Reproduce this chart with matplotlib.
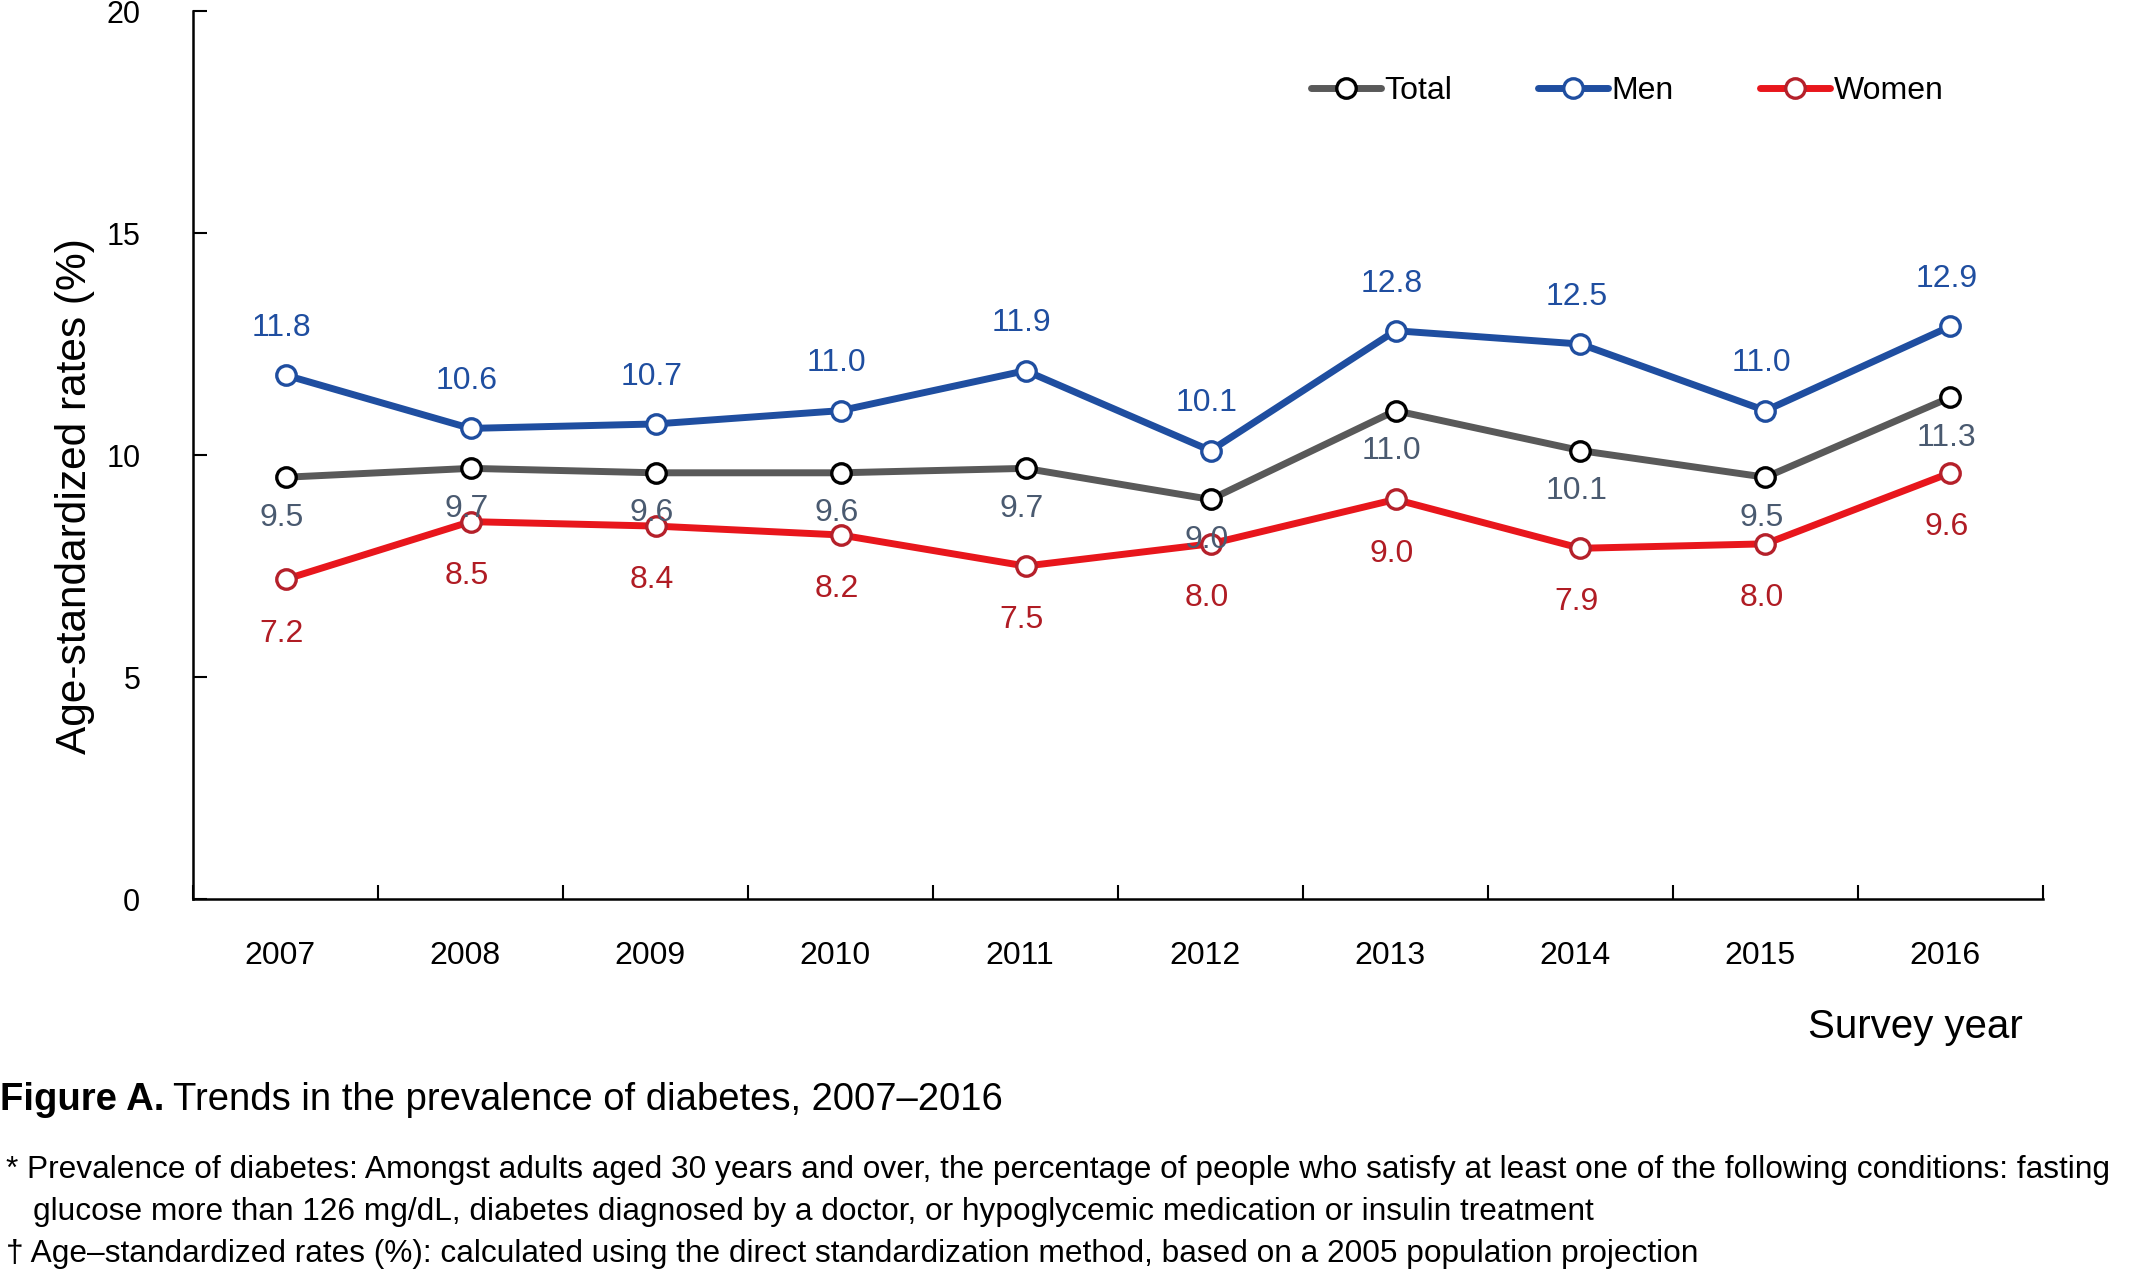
import matplotlib
matplotlib.use("Agg")
import matplotlib.pyplot as plt
from matplotlib.ticker import FixedLocator, NullFormatter
from matplotlib.transforms import ScaledTranslation
import numpy as np

years = ["2007", "2008", "2009", "2010", "2011", "2012", "2013", "2014", "2015", "2016"]
total = [9.5, 9.7, 9.6, 9.6, 9.7, 9.0, 11.0, 10.1, 9.5, 11.3]
men = [11.8, 10.6, 10.7, 11.0, 11.9, 10.1, 12.8, 12.5, 11.0, 12.9]
women = [7.2, 8.5, 8.4, 8.2, 7.5, 8.0, 9.0, 7.9, 8.0, 9.6]
y_ticks = [0, 5, 10, 15, 20]

plt.rcParams["font.family"] = ["Liberation Sans", "DejaVu Sans"]

fig = plt.figure(figsize=(21.33, 12.7), dpi=100)
ax = fig.add_axes([0.0905, 0.2921, 0.8673, 0.6992])

x = np.arange(len(years))

series = [
    ("Total", total, "#595959", "black", "#4a5a70", -29),
    ("Men", men, "#1f4ea0", "#1f4ea0", "#1f4ea0", 34),
    ("Women", women, "#e8161c", "#b5202a", "#b01c24", -39),
]

for name, vals, lc, ec, tc, off in series:
    ax.plot(x, vals, color=lc, lw=5, marker="o", ms=14, mfc="white",
            mec=ec, mew=2.4, label=name, solid_capstyle="round", zorder=3)
    for xi, v in zip(x, vals):
        ax.annotate(f"{v:.1f}", (xi, v), xytext=(-3, off), textcoords="offset points",
                    ha="center", va="center", fontsize=23, color=tc, zorder=4)

ax.set_xlim(-0.5, len(years) - 0.5)
ax.set_ylim(0, 20)
ax.set_yticks(y_ticks)
ax.tick_params(axis="y", direction="in", length=10, width=1.5, pad=38, labelsize=22)

# tick marks between categories, labels at the centres
ax.xaxis.set_major_locator(FixedLocator(np.arange(-0.5, len(years), 1.0)))
ax.xaxis.set_major_formatter(NullFormatter())
ax.xaxis.set_minor_locator(FixedLocator(x))
ax.set_xticklabels(years, minor=True)
ax.tick_params(axis="x", which="major", direction="in", length=10, width=1.5)
ax.tick_params(axis="x", which="minor", length=0, pad=30, labelsize=23)
shift = ScaledTranslation(-4 / 72, 0, fig.dpi_scale_trans)
for lab in ax.get_xticklabels(minor=True):
    lab.set_transform(lab.get_transform() + shift)

for s in ["top", "right"]:
    ax.spines[s].set_visible(False)
for s in ["left", "bottom"]:
    ax.spines[s].set_linewidth(1.8)

fig.text(0.035, 1 - 496 / 1270, "Age-standardized rates (%)", rotation=90,
         ha="center", va="center", fontsize=30.5)
fig.text(2023 / 2133, 1 - 1027 / 1270, "Survey year", ha="right", va="center", fontsize=29)

fig.legend(loc="center", bbox_to_anchor=(0.7628, 0.928), ncol=3, frameon=False,
           fontsize=23, handlelength=2.2, handletextpad=0.1, columnspacing=2.7)

t1 = fig.text(0.0, 1 - 1100 / 1270, "Figure A.", fontsize=27.5, weight="bold", va="center")
fig.canvas.draw()
bb = t1.get_window_extent()
x1 = bb.x1 / fig.bbox.width + 0.004
fig.text(x1, 1 - 1100 / 1270, "Trends in the prevalence of diabetes, 2007\u20132016",
         fontsize=27.5, va="center")
fig.text(0.003, 1 - 1170 / 1270,
         "* Prevalence of diabetes: Amongst adults aged 30 years and over, the percentage of people "
         "who satisfy at least one of the following conditions: fasting",
         fontsize=22.8, va="center")
fig.text(0.0155, 1 - 1212 / 1270,
         "glucose more than 126 mg/dL, diabetes diagnosed by a doctor, or hypoglycemic medication "
         "or insulin treatment",
         fontsize=22.8, va="center")
fig.text(0.003, 1 - 1254 / 1270,
         "\u2020 Age\u2013standardized rates (%): calculated using the direct standardization method, "
         "based on a 2005 population projection",
         fontsize=22.8, va="center")

fig.savefig("out.png", dpi=100)
